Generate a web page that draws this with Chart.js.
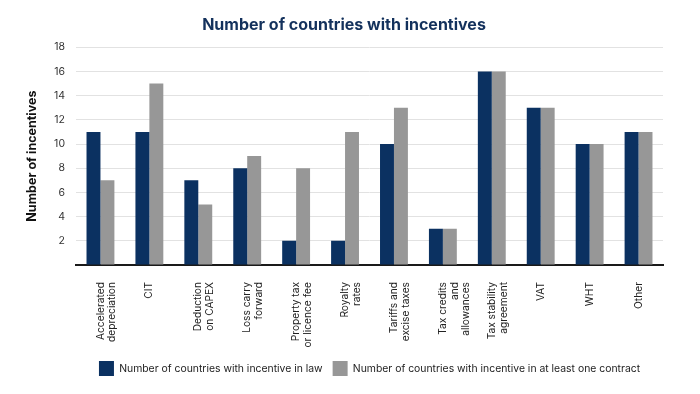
<!DOCTYPE html>
<html>
<head>
<meta charset="utf-8">
<script src="https://cdn.jsdelivr.net/npm/chart.js"></script>
<style>
  html, body { margin: 0; padding: 0; background: #fff; }
  #wrap { width: 700px; height: 394px; position: relative; }
</style>
</head>
<body>
<div id="wrap"><canvas id="chart"></canvas></div>
<script>
// categories (multi-line labels as shown under the axis)
const categories = [
  ['Accelerated', 'depreciation'],
  'CIT',
  ['Deduction', 'on CAPEX'],
  ['Loss carry', 'forward'],
  ['Property tax', 'or licence fee'],
  ['Royalty', 'rates'],
  ['Tariffs and', 'excise taxes'],
  ['Tax credits', 'and', 'allowances'],
  ['Tax stability', 'agreement'],
  'VAT',
  'WHT',
  'Other'
];
const inLaw      = [11, 11, 7, 8, 2, 2, 10, 3, 16, 13, 10, 11];
const inContract = [7, 15, 5, 9, 8, 11, 13, 3, 16, 13, 10, 11];
const yMax = 18;
const yStep = 2;

const FONT = 'Inter, "Noto Sans", sans-serif';
const NAVY = '#0b3161';
const GREY = '#979797';

new Chart(document.getElementById('chart'), {
  type: 'bar',
  data: {
    labels: categories,
    datasets: [
      { label: 'Number of countries with incentive in law', data: inLaw, backgroundColor: NAVY },
      { label: 'Number of countries with incentive in at least one contract', data: inContract, backgroundColor: GREY }
    ]
  },
  options: {
    responsive: true,
    maintainAspectRatio: false,
    animation: false,
    datasets: { bar: { barPercentage: 1, categoryPercentage: 0.57 } },
    layout: { padding: { top: 12, right: 37, bottom: 8, left: 25 } },
    plugins: {
      title: {
        display: true,
        text: 'Number of countries with incentives',
        color: '#13315c',
        font: { family: FONT, size: 16, weight: 'bold' },
        padding: { top: 4, bottom: 12 }
      },
      legend: {
        position: 'bottom',
        fullSize: false,
        labels: {
          boxWidth: 15, boxHeight: 15, padding: 10,
          color: '#222',
          font: { family: FONT, size: 10.4 }
        }
      },
      tooltip: { enabled: false }
    },
    scales: {
      x: {
        grid: { display: false },
        border: { display: true, color: '#1a1a1a', width: 2 },
        ticks: {
          minRotation: 90, maxRotation: 90,
          color: '#222', padding: 9,
          font: { family: FONT, size: 10.2, lineHeight: 1.15 }
        },
        // fixed band for the rotated labels, so the legend sits close under them
        afterFit: axis => { axis.height = 86; }
      },
      y: {
        min: 0, max: yMax,
        grid: { color: '#e2e2e2', lineWidth: 1, drawTicks: false },
        border: { display: false },
        ticks: {
          stepSize: yStep, padding: 11, color: '#333',
          font: { family: FONT, size: 10.5 },
          callback: v => (v === 0 ? '' : v)
        },
        title: {
          display: true,
          text: 'Number of incentives',
          color: '#111',
          font: { family: FONT, size: 12.5, weight: 'bold' },
          padding: { top: 0, bottom: 0 }
        },
        afterFit: axis => { axis.width = 51; }
      }
    }
  }
});
</script>
</body>
</html>
